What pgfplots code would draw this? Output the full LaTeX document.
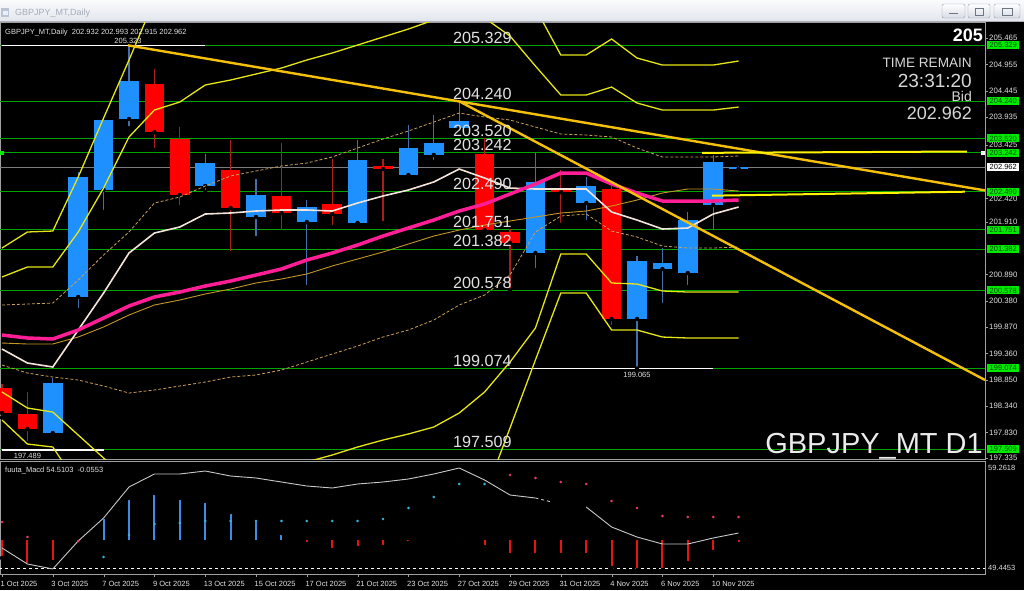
\documentclass[border=0pt]{standalone}
\usepackage{fontspec}
\setmainfont{Liberation Sans}
\usepackage{pgfplots}
\usepackage{pgfplotstable}
\pgfplotsset{compat=1.18}

\definecolor{cblue}{RGB}{30,144,255}
\definecolor{cred}{RGB}{255,0,0}
\definecolor{wblue}{RGB}{70,110,170}
\definecolor{wred}{RGB}{170,30,30}
\definecolor{lgreen}{RGB}{0,165,0}
\definecolor{bgreen}{RGB}{0,235,0}
\definecolor{gtext}{RGB}{0,70,0}
\definecolor{band}{RGB}{230,230,20}
\definecolor{trend}{RGB}{245,192,10}
\definecolor{pinkma}{RGB}{255,30,150}
\definecolor{whma}{RGB}{245,228,218}
\definecolor{dotc}{RGB}{200,160,90}
\definecolor{tanc}{RGB}{195,150,40}
\definecolor{txt}{RGB}{225,225,225}
\definecolor{txtb}{RGB}{215,215,215}
\definecolor{txtc}{RGB}{235,235,235}
\definecolor{axc}{RGB}{160,160,160}
\definecolor{cdot}{RGB}{60,180,220}
\definecolor{pdot}{RGB}{230,60,120}
\definecolor{hblue}{RGB}{60,140,230}
\definecolor{hred}{RGB}{230,20,20}
\definecolor{curp}{RGB}{125,125,125}
\definecolor{macdl}{RGB}{200,200,200}
\definecolor{tbtop}{RGB}{250,251,253}
\definecolor{tbbot}{RGB}{226,230,236}
\definecolor{tbline}{RGB}{170,175,185}
\definecolor{tbicon}{RGB}{185,195,210}
\definecolor{tbiconin}{RGB}{235,240,248}
\definecolor{tbtext}{RGB}{165,172,185}
\definecolor{btnbot}{RGB}{215,220,228}
\definecolor{btnedge}{RGB}{150,158,172}
\definecolor{btnsym}{RGB}{110,118,130}

% candles: i open high low close
\pgfplotstableread{
i o h l c
2 197.819 198.884 197.742 198.787
3 200.452 202.871 200.200 202.774
4 202.523 203.916 202.097 203.878
5 203.897 205.323 203.723 204.633
8 202.600 203.220 202.484 203.045
10 202.000 202.736 201.594 202.426
12 201.903 202.330 200.645 202.194
14 201.884 203.491 201.807 203.103
16 202.813 203.781 202.755 203.336
17 203.200 203.975 203.065 203.433
18 203.723 204.240 203.684 203.858
21 201.303 203.242 200.974 202.678
23 202.271 202.774 201.903 202.600
25 200.026 201.245 199.065 201.148
26 200.994 201.400 200.297 201.110
27 200.916 202.097 200.645 201.942
28 202.232 203.200 201.710 203.065
29 202.932 202.993 202.915 202.962
}\bull

\pgfplotstableread{
i o h l c
0 198.690 198.760 198.120 198.206
1 198.187 198.613 197.625 197.896
6 204.575 204.865 203.297 203.645
7 203.510 203.742 202.194 202.426
9 202.910 203.491 201.303 202.174
11 202.407 203.433 201.710 202.078
13 202.252 203.123 201.807 202.058
15 202.987 203.123 201.884 202.929
19 203.220 203.520 201.690 201.748
20 201.710 201.770 200.578 201.497
22 202.523 202.910 201.845 202.484
24 202.542 202.600 199.871 200.026
}\bear

% indicators
\pgfplotstableread{
i iu ou il ol pk wh du dl tn
0 200.839 201.400 198.613 198.071 199.716 199.445 200.297 199.135 199.561
1 201.032 201.710 198.303 197.606 199.658 199.174 200.316 198.980 199.542
2 201.032 201.729 198.225 197.548 199.639 199.097 200.335 198.903 199.542
3 201.710 202.774 197.780 196.810 199.813 199.813 200.781 198.845 199.677
4 202.561 203.916 197.335 196.400 200.045 200.529 201.265 198.729 199.871
5 203.549 205.039 196.909 196.200 200.277 201.303 201.710 198.593 200.103
6 204.071 206.200 196.700 196.100 200.452 201.690 202.271 198.651 200.297
7 204.226 206.500 196.600 196.000 200.548 201.807 202.387 198.729 200.393
8 204.555 206.600 196.600 196.000 200.664 202.058 202.600 198.806 200.510
9 204.652 206.700 196.650 196.000 200.761 202.078 202.794 198.903 200.606
10 204.768 206.700 196.750 196.100 200.877 202.116 202.890 198.942 200.723
11 204.884 206.800 196.900 196.200 200.994 202.136 202.987 199.038 200.800
12 205.039 206.800 197.258 196.300 201.168 202.136 203.045 199.193 200.897
13 205.175 206.900 197.393 196.400 201.303 202.116 203.162 199.348 201.052
14 205.329 207.000 197.548 196.500 201.458 202.271 203.336 199.503 201.187
15 205.484 207.100 197.683 196.500 201.632 202.407 203.510 199.677 201.323
16 205.639 207.100 197.800 196.500 201.787 202.523 203.665 199.813 201.477
17 205.813 207.200 197.935 196.400 201.942 202.678 203.839 200.006 201.632
18 205.968 207.200 198.206 196.300 202.116 202.929 204.013 200.297 201.748
19 205.852 207.000 198.613 196.619 202.252 202.755 203.936 200.490 201.845
20 205.504 206.700 199.193 197.916 202.445 202.561 203.878 200.877 201.923
21 204.923 206.046 199.851 199.232 202.639 202.542 203.742 201.710 202.000
22 204.362 205.136 201.284 200.529 202.852 202.542 203.607 202.019 202.078
23 204.362 205.136 201.284 200.529 202.852 202.542 203.587 202.058 202.116
24 204.516 205.446 200.723 199.813 202.639 202.097 203.549 201.729 202.213
25 204.207 205.078 200.703 199.813 202.465 201.942 203.336 201.613 202.329
26 204.071 204.942 200.568 199.677 202.310 201.768 203.162 201.439 202.465
27 204.071 204.942 200.548 199.658 202.310 201.787 203.162 201.400 202.542
28 204.071 204.942 200.548 199.658 202.310 202.058 203.162 201.400 202.542
29 204.129 205.020 200.548 199.658 202.329 202.194 203.181 201.419 202.503
}\ind

% MACD panel
\pgfplotstableread{
i v
0 51.390
1 49.835
2 49.349
3 52.070
4 54.305
5 57.318
6 58.582
7 58.582
8 58.873
9 58.387
10 58.193
11 57.804
12 57.415
13 57.221
14 57.610
15 57.804
16 58.096
17 58.582
18 59.165
19 57.999
20 56.541
21 56.249
}\macdA

\pgfplotstableread{
i v
23 55.374
24 53.431
25 52.459
26 51.778
27 51.778
28 52.362
29 52.847
}\macdB

\pgfplotstableread{
i v
4 54.402
5 56.249
6 56.735
7 56.249
8 55.958
9 54.888
10 54.111
11 52.847
18 52.360
}\hup

\pgfplotstableread{
i v
0 50.418
1 49.737
2 50.029
12 51.778
13 51.195
14 51.390
15 51.487
16 51.876
17 52.070
19 51.487
20 50.709
21 50.709
22 50.709
23 50.709
24 49.446
25 49.251
26 49.251
27 49.932
28 51.001
29 51.778
}\hdn

\pgfplotstableread{
i v
4 50.515
5 52.653
6 53.722
7 53.819
8 54.014
9 54.014
10 54.014
11 54.014
12 54.014
13 54.014
14 54.014
15 54.208
16 55.277
17 56.346
18 57.610
19 57.610
}\cdotT

\pgfplotstableread{
i v
0 53.917
1 52.459
3 52.070
20 58.484
21 58.193
22 57.804
23 57.610
24 55.958
25 55.277
26 54.500
27 54.402
28 54.402
29 54.402
}\pdotT

\pgfplotsset{
  mt/.style={scale only axis, width=985pt, xmin=-0.0787, xmax=38.701,
    axis line style={axc}, tick style={axc}, clip mode=individual},
  cwick/.style={only marks, mark=none, forget plot, error bars/.cd, y dir=plus, y explicit,
    error mark=none, error bar style={draw=#1, line width=1.2pt, solid}},
  cbody/.style={only marks, mark=none, forget plot, error bars/.cd, y dir=plus, y explicit,
    error mark=none, error bar style={draw=#1, line width=19.5pt, solid}},
  hbarup/.style={only marks, mark=none, forget plot, error bars/.cd, y dir=minus, y explicit,
    error mark=none, error bar style={draw=#1, line width=2pt, solid}},
  hbardn/.style={only marks, mark=none, forget plot, error bars/.cd, y dir=plus, y explicit,
    error mark=none, error bar style={draw=#1, line width=2pt, solid}},
  hl/.style={lgreen, line width=0.9pt, forget plot},
}
\tikzset{
  blab/.style={anchor=base west, inner sep=0pt, font=\fontsize{16.2}{16.2}\selectfont, text=txt, yshift=2pt},
  slab/.style={inner sep=0pt, font=\fontsize{7.5}{8}\selectfont, text=txt},
  gbox/.style={anchor=west, xshift=2pt, fill=bgreen, text=gtext, font=\fontsize{7.5}{8}\selectfont, inner sep=0pt, minimum width=32pt, minimum height=8pt},
}

\begin{document}
\begin{tikzpicture}
\fill[black] (0pt,0pt) rectangle (1024pt,590pt);
% title bar
\shade[top color=tbtop, bottom color=tbbot] (0pt,569pt) rectangle (1024pt,590pt);
\draw[tbline] (0pt,568.5pt) -- (1024pt,568.5pt);
\fill[tbicon] (1pt,573pt) rectangle (9pt,582pt);
\fill[tbiconin] (2.5pt,574.5pt) rectangle (7.5pt,579pt);
\node[anchor=base west, inner sep=0pt, font=\fontsize{9}{10}\selectfont, text=tbtext] at (15pt,574.5pt) {GBPJPY\_MT,Daily};
\foreach \xa/\xb in {942/965, 968/990, 994/1020}{
  \shade[top color=white, bottom color=btnbot, draw=btnedge, rounded corners=2pt] (\xa pt,572pt) rectangle (\xb pt,586pt);
}
\draw[btnsym, line width=1pt] (949pt,576pt) -- (958pt,576pt);
\draw[btnsym, line width=0.8pt] (975pt,575pt) rectangle (983pt,582pt);
\draw[btnsym, line width=0.8pt] (1002pt,575pt) rectangle (1012pt,582pt);

% ================= main price panel =================
\begin{axis}[mt, at={(0pt,131pt)}, anchor=south west, height=437pt,
  ymin=197.316, ymax=205.775, xtick=\empty,
  ytick={205.465,204.955,204.445,203.935,203.395,202.360,201.910,200.890,200.380,199.870,199.360,198.850,198.340,197.830,197.335},
  yticklabels={205.465,204.955,204.445,203.935,203.425,202.420,201.910,200.890,200.380,199.870,199.360,198.850,198.340,197.830,197.335},
  ytick pos=right, yticklabel pos=right, tick align=outside, major tick length=3pt,
  yticklabel style={font=\fontsize{7.8}{8}\selectfont, text=txt, anchor=west, inner sep=0pt, xshift=1pt}]
% horizontal levels
\addplot[hl] coordinates {(-0.1,205.329) (38.8,205.329)};
\addplot[hl] coordinates {(-0.1,204.240) (38.8,204.240)};
\addplot[hl] coordinates {(-0.1,203.520) (38.8,203.520)};
\addplot[hl] coordinates {(-0.1,203.242) (38.8,203.242)};
\addplot[hl] coordinates {(-0.1,202.490) (38.8,202.490)};
\addplot[hl] coordinates {(-0.1,201.751) (38.8,201.751)};
\addplot[hl] coordinates {(-0.1,201.382) (38.8,201.382)};
\addplot[hl] coordinates {(-0.1,200.578) (38.8,200.578)};
\addplot[hl] coordinates {(-0.1,199.074) (38.8,199.074)};
\addplot[hl] coordinates {(-0.1,197.509) (38.8,197.509)};
\addplot[curp, line width=0.9pt, forget plot] coordinates {(-0.1,202.962) (38.8,202.962)};
\addplot[white, line width=1.3pt, forget plot] coordinates {(0,205.323) (8,205.323)};
\addplot[white, line width=1.3pt, forget plot] coordinates {(20,199.065) (28,199.065)};
\addplot[white, line width=1.3pt, forget plot] coordinates {(0,197.489) (4,197.489)};
% candles
\addplot[cwick=wblue] table[x=i, y=l, y error plus expr=\thisrow{h}-\thisrow{l}] {\bull};
\addplot[cwick=wred] table[x=i, y=l, y error plus expr=\thisrow{h}-\thisrow{l}] {\bear};
\addplot[cbody=cblue] table[x=i, y=o, y error plus expr=\thisrow{c}-\thisrow{o}] {\bull};
\addplot[cbody=cred] table[x=i, y=c, y error plus expr=\thisrow{o}-\thisrow{c}] {\bear};
% indicators
\addplot[band, line width=1.3pt] table[x=i, y=iu] {\ind};
\addplot[band, line width=1.3pt] table[x=i, y=ou] {\ind};
\addplot[band, line width=1.3pt] table[x=i, y=il] {\ind};
\addplot[band, line width=1.3pt] table[x=i, y=ol] {\ind};
\addplot[dotc, densely dashed, line width=0.8pt] table[x=i, y=du] {\ind};
\addplot[dotc, densely dashed, line width=0.8pt] table[x=i, y=dl] {\ind};
\addplot[tanc, line width=0.9pt] table[x=i, y=tn] {\ind};
\addplot[whma, line width=1.6pt] table[x=i, y=wh] {\ind};
\addplot[pinkma, line width=3.5pt] table[x=i, y=pk] {\ind};
% trend lines
\addplot[trend, line width=2.4pt] coordinates {(4.96,205.323) (38.701,202.515)};
\addplot[trend, line width=2.4pt] coordinates {(18,204.240) (38.701,198.845)};
\addplot[yellow, line width=2pt] coordinates {(27.56,203.242) (37.99,203.268)};
\addplot[yellow, line width=2pt] coordinates {(27.95,202.413) (37.91,202.490)};
\addplot[only marks, mark=square*, mark size=1.6pt, bgreen] coordinates {(0,203.242)};
\addplot[only marks, mark=square*, mark size=1.3pt, white] coordinates {(38.6,203.242)};
% level labels
\node[blab] at (17.756,205.329) {205.329};
\node[blab] at (17.756,204.240) {204.240};
\node[blab] at (17.756,203.520) {203.520};
\node[blab] at (17.756,203.242) {203.242};
\node[blab] at (17.756,202.490) {202.490};
\node[blab] at (17.756,201.751) {201.751};
\node[blab] at (17.756,201.382) {201.382};
\node[blab] at (17.756,200.578) {200.578};
\node[blab] at (17.756,199.074) {199.074};
\node[blab] at (17.756,197.509) {197.509};
\node[slab, anchor=base, yshift=2pt] at (4.96,205.323) {205.323};
\node[slab, anchor=north, yshift=-3pt] at (25,199.065) {199.065};
\node[slab, anchor=north, yshift=-3pt] at (1.0,197.489) {197.489};
% right price boxes
\node[gbox] at (38.701,205.329) {205.329};
\node[gbox] at (38.701,204.240) {204.240};
\node[gbox] at (38.701,203.520) {203.520};
\node[gbox] at (38.701,203.242) {203.242};
\node[gbox, fill=white, text=black] at (38.701,202.962) {202.962};
\node[gbox] at (38.701,202.490) {202.490};
\node[gbox] at (38.701,201.751) {201.751};
\node[gbox] at (38.701,201.382) {201.382};
\node[gbox] at (38.701,200.578) {200.578};
\node[gbox] at (38.701,199.074) {199.074};
\node[gbox] at (38.701,197.509) {197.509};
\end{axis}

% ================= MACD panel =================
\begin{axis}[mt, at={(0pt,16pt)}, anchor=south west, height=113pt,
  ymin=48.862, ymax=59.845, ytick=\empty,
  xtick={0,2,4,6,8,10,12,14,16,18,20,22,24,26,28},
  xticklabels={1 Oct 2025,3 Oct 2025,7 Oct 2025,9 Oct 2025,13 Oct 2025,15 Oct 2025,17 Oct 2025,21 Oct 2025,23 Oct 2025,27 Oct 2025,29 Oct 2025,31 Oct 2025,4 Nov 2025,6 Nov 2025,10 Nov 2025},
  xtick pos=left, tick align=outside, major tick length=3pt,
  xticklabel style={font=\fontsize{7.5}{8}\selectfont, text=txt, anchor=north west, inner sep=0pt, xshift=-1.5pt, yshift=-4pt}]
\addplot[white, dashed, line width=0.8pt, forget plot] coordinates {(-0.1,49.4453) (38.8,49.4453)};
\addplot[hbarup=hblue] table[x=i, y=v, y error minus expr=\thisrow{v}-52.2] {\hup};
\addplot[hbardn=hred] table[x=i, y=v, y error plus expr=52.2-\thisrow{v}] {\hdn};
\addplot[macdl, line width=0.9pt] table[x=i, y=v] {\macdA};
\addplot[macdl, line width=0.9pt, dashed] coordinates {(21,56.249) (21.65,55.860)};
\addplot[macdl, line width=0.9pt] table[x=i, y=v] {\macdB};
\addplot[only marks, mark=*, mark size=1.1pt, cdot, mark options={draw=cdot, fill=cdot}] table[x=i, y=v] {\cdotT};
\addplot[only marks, mark=*, mark size=1.1pt, pdot, mark options={draw=pdot, fill=pdot}] table[x=i, y=v] {\pdotT};
\node[anchor=base west, inner sep=0pt, font=\fontsize{7.5}{8}\selectfont, text=txt] at (38.701,58.95) [xshift=3pt] {59.2618};
\node[anchor=base west, inner sep=0pt, font=\fontsize{7.5}{8}\selectfont, text=txt] at (38.701,49.2) [xshift=3pt] {49.4453};
\end{axis}

% chart texts
\node[anchor=base west, inner sep=0pt, font=\fontsize{7.5}{8}\selectfont, text=txt] at (5pt,555pt) {GBPJPY\_MT,Daily\ \ 202.932 202.993 202.915 202.962};
\node[anchor=base west, inner sep=0pt, font=\fontsize{7.5}{8}\selectfont, text=txt] at (5pt,118pt) {fuuta\_Macd 54.5103\ \ -0.0553};
\node[anchor=base east, inner sep=0pt, font=\bfseries\fontsize{18}{18}\selectfont, text=white] at (983pt,548pt) {205};
\node[anchor=base east, inner sep=0pt, font=\fontsize{13.6}{14}\selectfont, text=txtb] at (972pt,522pt) {TIME REMAIN};
\node[anchor=base east, inner sep=0pt, font=\fontsize{19}{19}\selectfont, text=txtb] at (972pt,502pt) {23:31:20};
\node[anchor=base east, inner sep=0pt, font=\fontsize{14}{14}\selectfont, text=txtb] at (972pt,488pt) {Bid};
\node[anchor=base east, inner sep=0pt, font=\fontsize{18}{18}\selectfont, text=txtb] at (972pt,470pt) {202.962};
\node[anchor=base east, inner sep=0pt, font=\fontsize{29}{29}\selectfont, text=txtc] at (983pt,137pt) {GBPJPY\_MT D1};

\pgfresetboundingbox
\useasboundingbox (0pt,0pt) rectangle (1024pt,590pt);
\end{tikzpicture}
\end{document}
